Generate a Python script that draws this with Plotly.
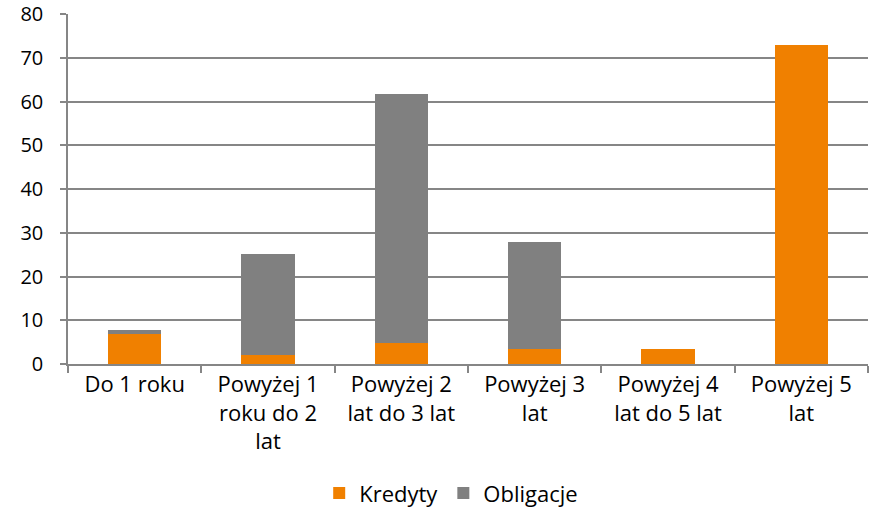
import plotly.graph_objects as go

categories = ["Do 1 roku", "Powyżej 1<br>roku do 2<br>lat", "Powyżej 2<br>lat do 3 lat",
              "Powyżej 3<br>lat", "Powyżej 4<br>lat do 5 lat", "Powyżej 5<br>lat"]
kredyty = [6.9, 2.1, 4.7, 3.4, 3.5, 73.0]
obligacje = [0.8, 23.0, 57.1, 24.5, 0, 0]
y_ticks = [0, 10, 20, 30, 40, 50, 60, 70, 80]

font = "Open Sans, sans-serif"
fig = go.Figure()
fig.add_bar(x=categories, y=kredyty, name="Kredyty", marker=dict(color="#F08000", line=dict(width=0)))
fig.add_bar(x=categories, y=obligacje, name="Obligacje", marker=dict(color="#808080", line=dict(width=0)))

fig.update_layout(
    barmode="stack",
    bargap=0.6,
    width=874, height=507,
    margin=dict(l=68, r=6, t=14, b=143, autoexpand=False),
    plot_bgcolor="white", paper_bgcolor="white",
    font=dict(family=font, size=21, color="#000000"),
    legend=dict(orientation="h", x=0.479, xanchor="center", y=-0.369, yanchor="middle",
                font=dict(size=22), itemwidth=30, traceorder="normal"),
    xaxis=dict(showline=True, linecolor="#868686", linewidth=1.5, ticks="outside",
               tickson="boundaries", ticklen=7, tickcolor="#868686", tickwidth=1.5,
               tickfont=dict(size=22), automargin=False),
    yaxis=dict(range=[0, 80], tickvals=y_ticks, showgrid=True, gridcolor="#868686",
               gridwidth=1.5, showline=True, linecolor="#868686", linewidth=1.5,
               ticks="outside", ticklen=6, tickcolor="#868686", tickwidth=1.5,
               tickfont=dict(size=20), zeroline=False, automargin=False,
               ticklabelstandoff=13, ticklabeloverflow="allow"),
)
fig.write_html("out.html", config={"displayModeBar": False},
               post_script="document.body.style.margin='0';document.body.style.overflow='hidden';")
